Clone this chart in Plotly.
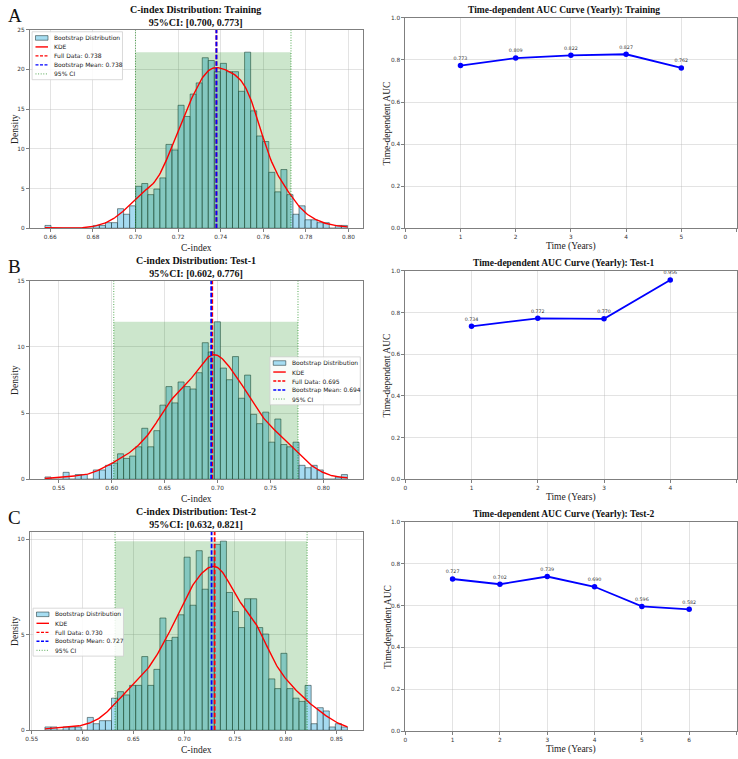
import numpy as np
import plotly.graph_objects as go

W, H = 738, 759

# ---------------- data ----------------
panel_names = ["Training", "Test-1", "Test-2"]
panel_letters = ["A", "B", "C"]
n_boot = 1000

# bootstrap histogram (density, 50 equal bins)
hist_range_train = (0.6575, 0.7995)
hist_density_train = [0.35, 0, 0, 0, 0, 0, 0, 0, 0.35, 0.35,
                      0.70, 0.70, 2.46, 1.76, 2.82, 5.28, 5.63, 4.23, 4.93, 6.34,
                      10.56, 9.86, 15.49, 14.08, 16.90, 18.31, 21.48, 21.13, 19.72, 20.77,
                      19.72, 19.72, 17.25, 22.18, 14.79, 11.62, 10.92, 7.04, 4.58, 7.39,
                      4.23, 1.76, 2.82, 1.06, 1.06, 0.70, 0.70, 0, 0.35, 0.35]

hist_range_test1 = (0.5370, 0.8227)
hist_density_test1 = [0.17, 0, 0, 0.52, 0, 0.35, 0.35, 0, 0.70, 0.70,
                      1.05, 1.22, 1.92, 1.57, 1.75, 2.45, 3.85, 2.45, 3.67, 5.60,
                      7.00, 5.77, 7.35, 7.00, 6.82, 8.05, 10.32, 9.62, 11.90, 8.40,
                      7.52, 9.27, 6.12, 7.87, 4.90, 4.20, 5.07, 2.80, 4.55, 2.62,
                      2.45, 2.80, 1.05, 0.87, 1.05, 0.70, 0, 0, 0.17, 0.35]

hist_range_test2 = (0.5630, 0.8607)
hist_density_test2 = [0.17, 0.17, 0, 0.17, 0.17, 0.17, 0, 0.67, 0.34, 0.50,
                      0.50, 1.68, 2.02, 1.85, 2.35, 2.35, 3.86, 2.35, 3.19, 5.88,
                      4.70, 4.87, 6.05, 9.07, 6.55, 9.41, 7.39, 9.07, 9.74, 9.91,
                      7.22, 6.22, 5.38, 6.89, 6.89, 5.38, 5.04, 2.69, 2.18, 4.03,
                      2.18, 1.68, 1.51, 2.35, 0.34, 1.18, 1.01, 0.17, 0.34, 0.17]

full_data = [0.738, 0.695, 0.730]
boot_mean = [0.738, 0.694, 0.727]
ci_low = [0.700, 0.602, 0.632]
ci_high = [0.773, 0.776, 0.821]
hist_ymax = [25, 15, 10.4]

hist_xticks_train = [0.66, 0.68, 0.70, 0.72, 0.74, 0.76, 0.78, 0.80]
hist_xticks_test1 = [0.55, 0.60, 0.65, 0.70, 0.75, 0.80]
hist_xticks_test2 = [0.55, 0.60, 0.65, 0.70, 0.75, 0.80, 0.85]

auc_years_train = [1, 2, 3, 4, 5]
auc_train = [0.773, 0.809, 0.822, 0.827, 0.762]
auc_years_test1 = [1, 2, 3, 4]
auc_test1 = [0.734, 0.772, 0.770, 0.956]
auc_years_test2 = [1, 2, 3, 4, 5, 6]
auc_test2 = [0.727, 0.702, 0.739, 0.690, 0.596, 0.582]
auc_xmax = [6, 5, 7]

hist_ranges = [hist_range_train, hist_range_test1, hist_range_test2]
hist_dens = [hist_density_train, hist_density_test1, hist_density_test2]
hist_ticks = [hist_xticks_train, hist_xticks_test1, hist_xticks_test2]
auc_years = [auc_years_train, auc_years_test1, auc_years_test2]
auc_vals = [auc_train, auc_test1, auc_test2]

# ---------------- layout geometry (pixels) ----------------
LEFT_X = (25, 360)
RIGHT_X = (403, 736.5)
LEFT_Y = [(27, 227), (280, 480), (533, 733)]
RIGHT_Y = [(15, 227), (270, 480), (523, 734)]
LEGEND_POS = [(27.3, 29), (266.7, 356.7), (28.3, 610)]
LEFT_TITLE_CX = 192
RIGHT_TITLE_CX = 563


def px(x):
    return x / W


def py(y):
    return 1 - y / H


SERIF = "Liberation Serif, Times New Roman, serif"
SANS = "DejaVu Sans, sans-serif"

fig = go.Figure()
shapes = []
annotations = []


def axref(i, k):
    return k + ("" if i == 1 else str(i))


def axname(i, k):
    return k + "axis" + ("" if i == 1 else str(i))


common_axis = dict(showline=True, mirror=True, linecolor="#7f7f7f", linewidth=1,
                   showgrid=True, gridcolor="rgba(176,176,176,0.35)", gridwidth=0.7,
                   ticks="outside", ticklen=3, tickwidth=0.8, tickcolor="#7f7f7f",
                   zeroline=False, fixedrange=True)

layout_axes = {}

for r in range(3):
    hi_ = 2 * r + 1
    ai_ = 2 * r + 2
    xr, yr = axref(hi_, "x"), axref(hi_, "y")
    lo, hi = hist_ranges[r]
    dens = np.array(hist_dens[r], dtype=float)
    nb = len(dens)
    w = (hi - lo) / nb
    centers = lo + (np.arange(nb) + 0.5) * w

    # histogram bars
    fig.add_trace(go.Bar(x=centers, y=dens, width=w, xaxis=xr, yaxis=yr,
                         marker=dict(color="rgba(135,206,235,0.75)",
                                     line=dict(color="rgba(20,40,40,0.75)", width=0.7)),
                         showlegend=False, hoverinfo="skip"))

    top = float(dens.max())
    # CI shaded band
    fig.add_trace(go.Scatter(x=[ci_low[r], ci_high[r], ci_high[r], ci_low[r], ci_low[r]],
                             y=[0, 0, top, top, 0], fill="toself",
                             fillcolor="rgba(0,128,0,0.2)", line=dict(width=0),
                             mode="lines", xaxis=xr, yaxis=yr, showlegend=False,
                             hoverinfo="skip"))

    # KDE computed from the histogram
    wt = dens * w
    wt = wt / wt.sum()
    mu = np.sum(wt * centers)
    sd = np.sqrt(np.sum(wt * (centers - mu) ** 2))
    bw = sd * n_boot ** (-0.2)
    sig = np.sqrt(bw ** 2 + w ** 2 / 12)
    xs = np.linspace(lo, hi, 300)
    kde = np.sum(wt[None, :] * np.exp(-0.5 * ((xs[:, None] - centers[None, :]) / sig) ** 2),
                 axis=1) / (sig * np.sqrt(2 * np.pi))
    fig.add_trace(go.Scatter(x=xs, y=kde, mode="lines", line=dict(color="red", width=1.4),
                             xaxis=xr, yaxis=yr, showlegend=False, hoverinfo="skip"))

    ymax = hist_ymax[r]
    for v in (ci_low[r], ci_high[r]):
        fig.add_trace(go.Scatter(x=[v, v], y=[0, ymax], mode="lines",
                                 line=dict(color="rgba(0,128,0,0.75)", width=0.9, dash="1px,1.6px"),
                                 xaxis=xr, yaxis=yr, showlegend=False, hoverinfo="skip"))
    fig.add_trace(go.Scatter(x=[full_data[r]] * 2, y=[0, ymax], mode="lines",
                             line=dict(color="red", width=1.8, dash="4.5px,2px"),
                             xaxis=xr, yaxis=yr, showlegend=False, hoverinfo="skip"))
    fig.add_trace(go.Scatter(x=[boot_mean[r]] * 2, y=[0, ymax], mode="lines",
                             line=dict(color="blue", width=1.8, dash="4.5px,2px"),
                             xaxis=xr, yaxis=yr, showlegend=False, hoverinfo="skip"))

    margin = 0.05 * (hi - lo)
    layout_axes[axname(hi_, "x")] = dict(common_axis, anchor=yr,
                                         domain=[px(LEFT_X[0]), px(LEFT_X[1])],
                                         range=[lo - margin, hi + margin],
                                         tickvals=hist_ticks[r],
                                         ticktext=[f"{t:.2f}" for t in hist_ticks[r]],
                                         tickfont=dict(family=SANS, size=5.8, color="#333"))
    layout_axes[axname(hi_, "y")] = dict(common_axis, anchor=xr,
                                         domain=[py(LEFT_Y[r][1]), py(LEFT_Y[r][0])],
                                         range=[0, ymax], tick0=0, dtick=5,
                                         tickfont=dict(family=SANS, size=5.8, color="#333"))

    # AUC curve
    xa, ya = axref(ai_, "x"), axref(ai_, "y")
    fig.add_trace(go.Scatter(x=auc_years[r], y=auc_vals[r], mode="lines+markers+text",
                             line=dict(color="blue", width=1.8),
                             marker=dict(color="blue", size=5.5),
                             text=[f"{v:.3f}" for v in auc_vals[r]],
                             textposition="top center",
                             textfont=dict(family=SANS, size=4.8, color="#333"),
                             cliponaxis=False, xaxis=xa, yaxis=ya,
                             showlegend=False, hoverinfo="skip"))
    layout_axes[axname(ai_, "x")] = dict(common_axis, anchor=ya,
                                         domain=[px(RIGHT_X[0]), px(RIGHT_X[1])],
                                         range=[0, auc_xmax[r]], tick0=0, dtick=1,
                                         tickfont=dict(family=SANS, size=5.8, color="#333"))
    layout_axes[axname(ai_, "y")] = dict(common_axis, anchor=xa,
                                         domain=[py(RIGHT_Y[r][1]), py(RIGHT_Y[r][0])],
                                         range=[0, 1], tick0=0, dtick=0.2, tickformat=".1f",
                                         tickfont=dict(family=SANS, size=5.8, color="#333"))

    # titles
    lcx = (LEFT_X[0] + LEFT_X[1]) / 2
    rcx = (RIGHT_X[0] + RIGHT_X[1]) / 2
    annotations.append(dict(x=px(LEFT_TITLE_CX), y=py(LEFT_Y[r][0] - 13.7), xref="paper",
                            yref="paper",
                            text=f"<b>C-index Distribution: {panel_names[r]}</b><br>"
                                 f"<b>95%CI: [{ci_low[r]:.3f}, {ci_high[r]:.3f}]</b>",
                            showarrow=False, xanchor="center", yanchor="middle",
                            font=dict(family=SERIF, size=10, color="#111")))
    annotations.append(dict(x=px(RIGHT_TITLE_CX), y=py(RIGHT_Y[r][0] - 7.7), xref="paper",
                            yref="paper",
                            text=f"<b>Time-dependent AUC Curve (Yearly): {panel_names[r]}</b>",
                            showarrow=False, xanchor="center", yanchor="middle",
                            font=dict(family=SERIF, size=9.5, color="#111")))
    # axis titles
    annotations.append(dict(x=px(lcx), y=py(LEFT_Y[r][1] + 19.5), xref="paper", yref="paper",
                            text="C-index", showarrow=False, xanchor="center", yanchor="middle",
                            font=dict(family=SERIF, size=9.5, color="#222")))
    annotations.append(dict(x=px(rcx), y=py(RIGHT_Y[r][1] + 18), xref="paper", yref="paper",
                            text="Time (Years)", showarrow=False, xanchor="center",
                            yanchor="middle", font=dict(family=SERIF, size=9.5, color="#222")))
    annotations.append(dict(x=px(10), y=py((LEFT_Y[r][0] + LEFT_Y[r][1]) / 2), xref="paper",
                            yref="paper", text="Density", textangle=-90, showarrow=False,
                            xanchor="center", yanchor="middle",
                            font=dict(family=SERIF, size=9.5, color="#222")))
    annotations.append(dict(x=px(385), y=py((RIGHT_Y[r][0] + RIGHT_Y[r][1]) / 2), xref="paper",
                            yref="paper", text="Time-dependent AUC", textangle=-90,
                            showarrow=False, xanchor="center", yanchor="middle",
                            font=dict(family=SERIF, size=9.5, color="#222")))
    # panel letter
    annotations.append(dict(x=px(1), y=py(LEFT_Y[r][0] - 14), xref="paper", yref="paper",
                            text=panel_letters[r], showarrow=False, xanchor="left",
                            yanchor="middle", font=dict(family=SERIF, size=19, color="#111")))

    # legend (drawn as a box inside the histogram panel)
    lx, ly = LEGEND_POS[r]
    lw_, lh_ = 91, 48.3
    shapes.append(dict(type="rect", xref="paper", yref="paper", layer="above",
                       x0=px(lx), x1=px(lx + lw_), y0=py(ly + lh_), y1=py(ly),
                       fillcolor="rgba(255,255,255,0.85)",
                       line=dict(color="#cfcfcf", width=0.8)))
    labels = ["Bootstrap Distribution", "KDE", f"Full Data: {full_data[r]:.3f}",
              f"Bootstrap Mean: {boot_mean[r]:.3f}", "95% CI"]
    styles = [None,
              dict(color="red", width=1.4),
              dict(color="red", width=1.4, dash="3px,1.5px"),
              dict(color="blue", width=1.4, dash="3px,1.5px"),
              dict(color="rgba(0,128,0,0.75)", width=0.9, dash="1px,1.6px")]
    for k, (lab, sty) in enumerate(zip(labels, styles)):
        yc = ly + 6.2 + 9.07 * k
        sx0, sx1 = lx + 3.4, lx + 16
        if sty is None:
            shapes.append(dict(type="rect", xref="paper", yref="paper", layer="above",
                               x0=px(sx0), x1=px(sx1), y0=py(yc + 2.3), y1=py(yc - 2.3),
                               fillcolor="rgb(166,221,241)",
                               line=dict(color="rgba(20,40,40,0.75)", width=0.7)))
        else:
            shapes.append(dict(type="line", xref="paper", yref="paper", layer="above",
                               x0=px(sx0), x1=px(sx1), y0=py(yc), y1=py(yc), line=sty))
        annotations.append(dict(x=px(lx + 20), y=py(yc), xref="paper", yref="paper",
                                text=lab, showarrow=False, xanchor="left", yanchor="middle",
                                font=dict(family=SANS, size=6, color="#222")))

fig.update_layout(width=W, height=H, margin=dict(l=0, r=0, t=0, b=0),
                  paper_bgcolor="white", plot_bgcolor="white", showlegend=False,
                  barmode="overlay", shapes=shapes, annotations=annotations,
                  **layout_axes)

fig.write_html("out.html")
